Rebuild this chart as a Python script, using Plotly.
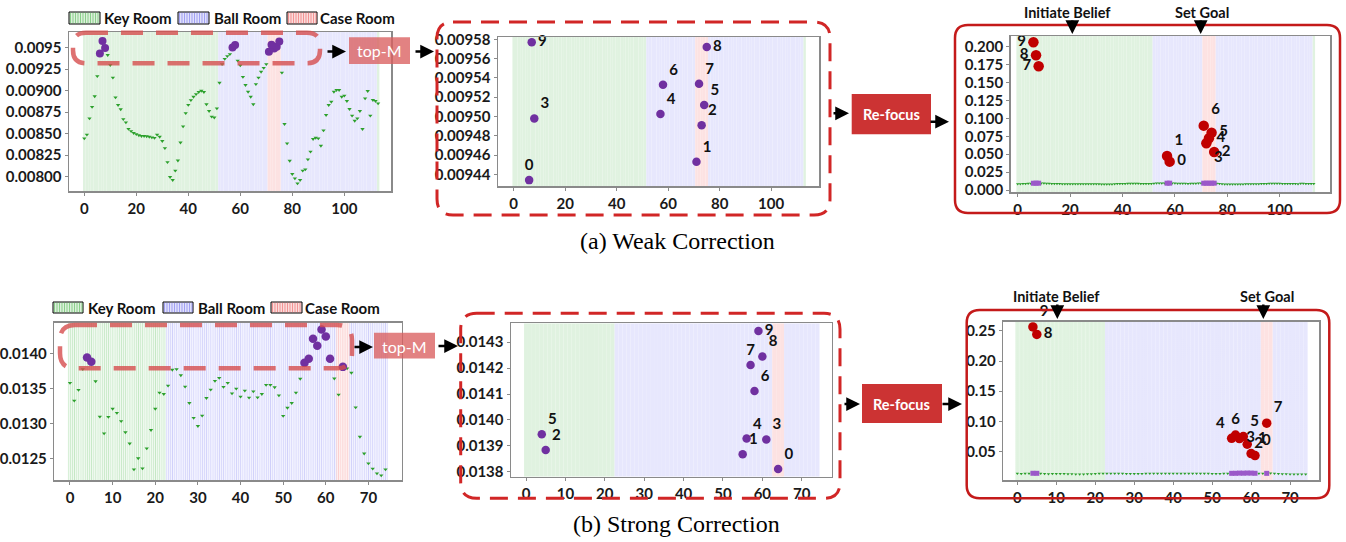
import numpy as np
import plotly.graph_objects as go

W, H = 1346, 542

# ---------------- data ----------------
A_SCORES = [0.008446, 0.008490, 0.008679, 0.008812, 0.008936, 0.009170, 0.009434, 0.009577, 0.009498, 0.009415,
            0.009299, 0.009153, 0.008922, 0.008834, 0.008784, 0.008670, 0.008632, 0.008556, 0.008530, 0.008508,
            0.008495, 0.008482, 0.008473, 0.008473, 0.008470, 0.008465, 0.008458, 0.008452, 0.008490, 0.008465,
            0.008415, 0.008333, 0.008170, 0.007996, 0.007962, 0.008070, 0.008188, 0.008398, 0.008585, 0.008740,
            0.008836, 0.008891, 0.008930, 0.008961, 0.008985, 0.009000, 0.008985, 0.008843, 0.008764, 0.008698,
            0.008688, 0.008795, 0.009093, 0.009310, 0.009370, 0.009403, 0.009425, 0.0095025, 0.009533, 0.009350,
            0.009295, 0.009160, 0.009066, 0.008988, 0.008930, 0.008843, 0.009076, 0.009153, 0.009220, 0.009265,
            0.009310, 0.009453, 0.009534, 0.009491, 0.009512, 0.009572, 0.009210, 0.008613, 0.008388, 0.008186,
            0.008031, 0.007981, 0.007923, 0.007962, 0.008070, 0.008086, 0.008202, 0.008291, 0.008438, 0.008453,
            0.008446, 0.008360, 0.008539, 0.008717, 0.008834, 0.008872, 0.008988, 0.009008, 0.009008, 0.008930,
            0.008942, 0.008880, 0.008787, 0.008710, 0.008651, 0.008679, 0.008764, 0.008555, 0.008911, 0.008997,
            0.008710, 0.008892, 0.008880, 0.008853]

B_SCORES = [0.013583, 0.013329, 0.013482, 0.013779, 0.013945, 0.013884, 0.013606, 0.013103, 0.012864, 0.013099,
            0.013214, 0.013156, 0.013037, 0.012879, 0.012720, 0.012350, 0.012509, 0.012365, 0.012649, 0.012912,
            0.013214, 0.013444, 0.013425, 0.013544, 0.013770, 0.013779, 0.013692, 0.013530, 0.013296, 0.013084,
            0.012969, 0.013117, 0.013367, 0.013487, 0.013612, 0.013655, 0.013526, 0.013583, 0.013434, 0.013500,
            0.013386, 0.013472, 0.013372, 0.013462, 0.013376, 0.013425, 0.013554, 0.013554, 0.013520, 0.013405,
            0.013113, 0.013228, 0.013296, 0.013444, 0.013641, 0.013868, 0.013928, 0.014212, 0.014112, 0.014343,
            0.014245, 0.013925, 0.013645, 0.013415, 0.013811, 0.013789, 0.013727, 0.013233, 0.012816, 0.012577,
            0.012437, 0.012361, 0.012294, 0.012265, 0.012351]

A_ROOMS = [("Key Room", 0, 51), ("Ball Room", 52, 70), ("Case Room", 71, 75),
           ("Ball Room", 76, 112), ("Key Room", 113, 113)]
B_ROOMS = [("Key Room", 0, 22), ("Ball Room", 23, 62), ("Case Room", 63, 65), ("Ball Room", 66, 74)]

A_REFOCUS_IDX = [6, 7, 8, 57, 58, 71, 72, 73, 74, 75]
A_REFOCUS_VAL = [0.2061, 0.1880, 0.1726, 0.0475, 0.0396, 0.0898, 0.0652, 0.0722, 0.0800, 0.0531]
B_REFOCUS_IDX = [4, 5, 55, 56, 57, 58, 59, 60, 61, 64]
B_REFOCUS_VAL = [0.2566, 0.2441, 0.0720, 0.0774, 0.0715, 0.0748, 0.0621, 0.0466, 0.0433, 0.0970]

TOP_M = 10
ROOM_NAMES = ["Key Room", "Ball Room", "Case Room"]

A1_YTICKS = [0.008, 0.00825, 0.0085, 0.00875, 0.009, 0.00925, 0.0095]
A1_YTEXT = ["0.00800", "0.00825", "0.00850", "0.00875", "0.00900", "0.00925", "0.0095"]
A2_YTICKS = [0.00944, 0.00946, 0.00948, 0.00950, 0.00952, 0.00954, 0.00956, 0.00958]
A3_YTICKS = [0.0, 0.025, 0.05, 0.075, 0.1, 0.125, 0.15, 0.175, 0.2]
B1_YTICKS = [0.0125, 0.0130, 0.0135, 0.0140]
B2_YTICKS = [0.0138, 0.0139, 0.0140, 0.0141, 0.0142, 0.0143]
B3_YTICKS = [0.05, 0.10, 0.15, 0.20, 0.25]
A_XTICKS = [0, 20, 40, 60, 80, 100]
B_XTICKS = [0, 10, 20, 30, 40, 50, 60, 70]

CAPTION_A = "(a) Weak Correction"
CAPTION_B = "(b) Strong Correction"

# ---------------- styles / layout ----------------
def fx(x):
    return x / W


def fy(y):
    return 1 - y / H


ROOM_STYLE = {
    "Key Room": dict(bg="rgb(246,252,246)", fg="rgba(110,195,110,0.75)", sw="rgb(220,240,220)"),
    "Ball Room": dict(bg="rgb(247,247,255)", fg="rgba(125,125,240,0.65)", sw="rgb(225,225,250)"),
    "Case Room": dict(bg="rgb(255,245,245)", fg="rgba(240,115,115,0.70)", sw="rgb(250,220,220)"),
}

GREEN = "#2ca02c"
PURPLE = "#7030a0"
RED = "#c00000"
TICKFONT = dict(family="Lato", size=15, color="#1a1a1a", weight="bold")
LABELFONT = dict(family="Lato", size=15, color="#111111", weight="bold")

PANELS = {
    "A1": dict(n=1, box=(69, 32, 391, 191), xr=(-5.88, 117.96), yr=(0.007834, 0.009683), unit=2.6,
               yt=A1_YTICKS, ytext=A1_YTEXT, xt=A_XTICKS),
    "A2": dict(n=2, box=(498, 37, 819, 186), xr=(-6.1, 118.6), yr=(0.0094279, 0.0095824), unit=2.57,
               yt=A2_YTICKS, ytext=["%.5f" % v for v in A2_YTICKS], xt=A_XTICKS),
    "A3": dict(n=3, box=(1010.7, 36, 1330, 192.3), xr=(-2.67, 119.2), yr=(-0.0032, 0.2149), unit=2.62,
               yt=A3_YTICKS, ytext=["%.3f" % v for v in A3_YTICKS], xt=A_XTICKS),
    "B1": dict(n=4, box=(54.3, 322.7, 401.7, 480), xr=(-3.68, 77.8), yr=(0.01220, 0.01444), unit=4.26,
               yt=B1_YTICKS, ytext=["%.4f" % v for v in B1_YTICKS], xt=B_XTICKS),
    "B2": dict(n=5, box=(511, 323.3, 831.7, 476.7), xr=(-3.81, 77.6), yr=(0.013781, 0.014373), unit=3.94,
               yt=B2_YTICKS, ytext=["%.4f" % v for v in B2_YTICKS], xt=B_XTICKS),
    "B3": dict(n=6, box=(1003.3, 321.7, 1319.3, 480), xr=(-3.6, 77.5), yr=(0.0028, 0.2653), unit=3.9,
               yt=B3_YTICKS, ytext=["%.2f" % v for v in B3_YTICKS], xt=B_XTICKS),
}

A2_POS = {9: "middle right", 8: "middle right", 7: "top right", 6: "top right", 5: "top right",
          4: "top right", 3: "top right", 2: "top right", 1: "top right", 0: "top center"}
A3_POS = {9: "middle left", 8: "middle left", 7: "middle left", 6: "top right", 5: "middle right",
          4: "middle right", 3: "bottom right", 2: "middle right", 1: "top right", 0: "middle right"}
B2_POS = {9: "middle right", 8: "top right", 7: "top center", 6: "top right", 5: "top right",
          4: "top right", 3: "top right", 2: "top right", 1: "top right", 0: "top right"}
B3_POS = {9: "top right", 8: "middle right", 7: "top right", 6: "top center", 5: "top right",
          4: "top left", 3: "middle right", 2: "middle right", 1: "top right", 0: "top right"}

fig = go.Figure()


def axes_of(p):
    n = PANELS[p]["n"]
    s = "" if n == 1 else str(n)
    return "x" + s, "y" + s, "xaxis" + s, "yaxis" + s


def add_stripes(p, rooms):
    cfg = PANELS[p]
    xa, ya, _, _ = axes_of(p)
    y0, y1 = cfg["yr"]
    for name in ROOM_NAMES:
        xs = [i for (r, a, b) in rooms if r == name for i in range(a, b + 1)]
        st = ROOM_STYLE[name]
        fig.add_trace(go.Bar(
            x=xs, y=[y1 - y0] * len(xs), base=y0, width=1, xaxis=xa, yaxis=ya,
            marker=dict(color=st["bg"], line=dict(width=0),
                        pattern=dict(shape="|", fgcolor=st["fg"], bgcolor=st["bg"],
                                     size=max(cfg["unit"] / 2.0, 1.8), solidity=0.42)),
            hoverinfo="skip", showlegend=False))


def scatter(p, xs, ys, color, size, symbol="circle", text=None, pos=None):
    xa, ya, _, _ = axes_of(p)
    if text is not None:
        kw = dict(mode="markers+text", text=text, textposition=pos, textfont=LABELFONT)
    else:
        kw = dict(mode="markers")
    fig.add_trace(go.Scatter(x=xs, y=ys, xaxis=xa, yaxis=ya, cliponaxis=False,
                             marker=dict(color=color, size=size, symbol=symbol, line=dict(width=0)),
                             hoverinfo="skip", showlegend=False, **kw))


def build_row(prefix, scores, rooms, ref_idx, ref_val, pos2, pos3, big1, big3):
    s = np.array(scores)
    idx = np.arange(len(s))
    order = np.argsort(s)
    top = order[-TOP_M:]                      # ascending value order
    top_rank = {int(i): r for r, i in enumerate(top)}
    rest = np.array([i for i in idx if i not in top_rank])

    for k in ("1", "2", "3"):
        add_stripes(prefix + k, rooms)

    # panel 1: all scores
    scatter(prefix + "1", rest, s[rest], GREEN, 3.8, "triangle-down")
    scatter(prefix + "1", top, s[top], PURPLE, big1)

    # panel 2: top-M with ranks
    ranks = [top_rank[int(i)] for i in top]
    scatter(prefix + "2", top, s[top], PURPLE, 8.5, text=[str(r) for r in ranks],
            pos=[pos2[r] for r in ranks])

    # panel 3: re-focused scores
    scatter(prefix + "3", rest, s[rest], GREEN, 3.0, "triangle-down")
    scatter(prefix + "3", top, s[top], "#9b59c9", 5, "square")
    rv = np.array(ref_val)
    rorder = np.argsort(rv)
    rrank = {int(j): r for r, j in enumerate(rorder)}
    labels = [rrank[j] for j in range(len(rv))]
    scatter(prefix + "3", ref_idx, rv, RED, big3, text=[str(r) for r in labels],
            pos=[pos3[r] for r in labels])


build_row("A", A_SCORES, A_ROOMS, A_REFOCUS_IDX, A_REFOCUS_VAL, A2_POS, A3_POS, 8, 10.5)
build_row("B", B_SCORES, B_ROOMS, B_REFOCUS_IDX, B_REFOCUS_VAL, B2_POS, B3_POS, 8.5, 9.5)

# axes
axis_layout = {}
for p, cfg in PANELS.items():
    xa, ya, xk, yk = axes_of(p)
    x0, t, x1, b = cfg["box"]
    common = dict(showline=True, mirror=True, linecolor="#8a8a8a", linewidth=1.5, showgrid=False,
                  zeroline=False, ticks="outside", ticklen=3, tickcolor="#8a8a8a", tickwidth=1,
                  tickfont=TICKFONT, automargin=False, fixedrange=True)
    axis_layout[xk] = dict(domain=[fx(x0), fx(x1)], range=list(cfg["xr"]), anchor=ya,
                           tickmode="array", tickvals=cfg["xt"], ticktext=[str(v) for v in cfg["xt"]],
                           **common)
    axis_layout[yk] = dict(domain=[fy(b), fy(t)], range=list(cfg["yr"]), anchor=xa,
                           tickmode="array", tickvals=cfg["yt"], ticktext=cfg["ytext"], **common)

shapes = []
annotations = []


def rrect_path(x0, y0, x1, y1, r):
    pts = [("M", [(x0 + r, y0)]), ("L", [(x1 - r, y0)]), ("Q", [(x1, y0), (x1, y0 + r)]),
           ("L", [(x1, y1 - r)]), ("Q", [(x1, y1), (x1 - r, y1)]), ("L", [(x0 + r, y1)]),
           ("Q", [(x0, y1), (x0, y1 - r)]), ("L", [(x0, y0 + r)]), ("Q", [(x0, y0), (x0 + r, y0)])]
    out = []
    for cmd, ps in pts:
        out.append(cmd + " " + " ".join("%.6f,%.6f" % (fx(a), fy(c)) for a, c in ps))
    return " ".join(out) + " Z"


def path_shape(path, color, width, dash="solid", fill=None):
    shapes.append(dict(type="path", xref="paper", yref="paper", path=path, layer="above",
                       line=dict(color=color, width=width, dash=dash),
                       fillcolor=fill if fill else "rgba(0,0,0,0)"))


def rect(x0, y0, x1, y1, fill, line_color=None, lw=0, layer="above"):
    shapes.append(dict(type="rect", xref="paper", yref="paper", x0=fx(x0), x1=fx(x1),
                       y0=fy(y1), y1=fy(y0), fillcolor=fill, layer=layer,
                       line=dict(color=line_color or "rgba(0,0,0,0)", width=lw)))


def text(x, y, s, size=15, color="#111111", weight="bold", family="Lato", xanchor="center"):
    annotations.append(dict(x=fx(x), y=fy(y), xref="paper", yref="paper", text=s, showarrow=False,
                            xanchor=xanchor, yanchor="middle",
                            font=dict(family=family, size=size, color=color, weight=weight)))


def arrow(tail, head, width=2.5):
    annotations.append(dict(x=fx(head[0]), y=fy(head[1]), xref="paper", yref="paper", text="",
                            showarrow=True, axref="pixel", ayref="pixel",
                            ax=tail[0] - head[0], ay=tail[1] - head[1],
                            arrowhead=2, arrowsize=1.1, arrowwidth=width, arrowcolor="black",
                            standoff=0, startstandoff=0))


# legends
def legend(y0, y1, items):
    for name, bx0, bx1, tx in items:
        st = ROOM_STYLE[name]
        rect(bx0, y0, bx1, y1, st["sw"], "black", 1)
        segs = []
        xx = bx0 + 1.5
        while xx < bx1 - 0.5:
            segs.append("M %.6f,%.6f L %.6f,%.6f" % (fx(xx), fy(y0 + 0.8), fx(xx), fy(y1 - 0.8)))
            xx += 2.5
        shapes.append(dict(type="path", xref="paper", yref="paper", path=" ".join(segs),
                           line=dict(color=st["fg"], width=1), layer="above"))
        text(tx, (y0 + y1) / 2 + 0.3, name, size=15, xanchor="left")


legend(12, 24, [("Key Room", 69, 100, 102), ("Ball Room", 178, 209, 212), ("Case Room", 287, 317, 318)])
legend(302, 313, [("Key Room", 53, 83, 86), ("Ball Room", 163, 193, 196), ("Case Room", 271, 302, 303)])

# highlight of the top-M region
HL = "rgba(214,78,78,0.80)"
path_shape(rrect_path(73, 32.7, 320, 63.3, 13), HL, 4.5, dash="22px,13px")
path_shape(rrect_path(60, 325, 352, 368.3, 15), HL, 4.5, dash="22px,13px")

# frames
path_shape(rrect_path(437, 22, 830, 215, 16), "#d12626", 3, dash="18px,10px")
path_shape(rrect_path(460.7, 313.3, 840, 498.3, 16), "#d12626", 3, dash="18px,10px")
path_shape(rrect_path(955, 25, 1340, 213, 13), "#c41a1a", 2.5)
path_shape(rrect_path(966.7, 310, 1329.3, 498.3, 13), "#c41a1a", 2.5)

# boxes
TOPM = "rgba(218,95,95,0.78)"
rect(349, 37.3, 410, 64, TOPM)
rect(374, 332.7, 435, 358.5, TOPM)
text(379.5, 51, "top-M", size=16, color="white", weight="normal")
text(404.5, 346, "top-M", size=16, color="white", weight="normal")
REF = "#cc3333"
rect(851.7, 94, 931, 134.3, REF)
rect(862, 384, 942, 423, REF)
text(891.3, 114.5, "Re-focus", size=14.5, color="white")
text(902, 404, "Re-focus", size=14.5, color="white")

# arrows
arrow((326, 51.5), (346, 51.5))
arrow((414, 51.5), (434, 51.5))
arrow((832, 113.3), (849, 113.3))
arrow((929, 121.7), (949, 121.7))
arrow((353, 347), (373, 347))
arrow((437, 346), (458, 346))
arrow((843, 404), (860, 404))
arrow((941, 404), (962, 404))
arrow((1072.3, 19), (1072.3, 34))
arrow((1200.7, 19), (1200.7, 34))
arrow((1057.3, 303), (1057.3, 319))
arrow((1263.3, 303), (1263.3, 319))

text(1067.7, 12.5, "Initiate Belief", size=14.5)
text(1201.7, 12.5, "Set Goal", size=14.5)
text(1056.7, 296.5, "Initiate Belief", size=14.5)
text(1266.7, 296.5, "Set Goal", size=14.5)

# captions
text(677, 241, CAPTION_A, size=24, color="black", weight="normal", family="Liberation Serif")
text(676, 523.5, CAPTION_B, size=24, color="black", weight="normal", family="Liberation Serif")

fig.update_layout(
    width=W, height=H, autosize=False,
    margin=dict(l=0, r=0, t=0, b=0, pad=0),
    paper_bgcolor="white", plot_bgcolor="white",
    barmode="overlay", showlegend=False,
    shapes=shapes, annotations=annotations,
    font=dict(family="Lato"),
    **axis_layout,
)

fig.write_html("out.html", config={"displayModeBar": False, "staticPlot": True},
               post_script="document.body.style.margin='0px';document.body.style.padding='0px';"
                           "document.body.style.overflow='hidden';")
